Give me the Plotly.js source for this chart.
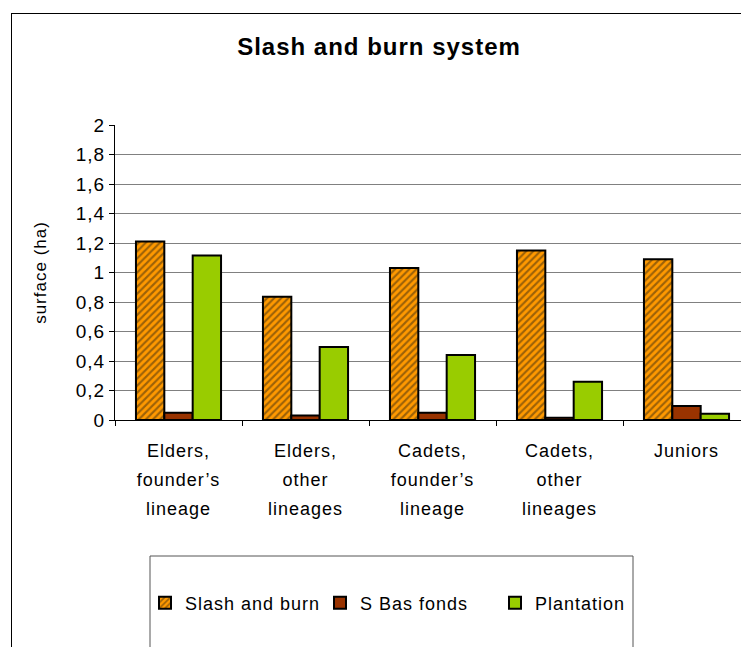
<!DOCTYPE html>
<html><head><meta charset="utf-8">
<script src="https://cdn.plot.ly/plotly-3.0.1.min.js"></script>
<style>
html,body{margin:0;padding:0;overflow:hidden;background:#fff;width:741px;height:647px}
#chart{position:absolute;left:0;top:0;width:760px;height:647px}
#frame{position:absolute;left:11px;top:13px;width:800px;height:700px;border-left:1px solid #000;border-top:1px solid #000;pointer-events:none}
svg text{letter-spacing:1px}
</style></head><body>
<div id="chart"></div>
<div id="frame"></div>
<script>
const categories = ['Elders, founder’s lineage','Elders, other lineages','Cadets, founder’s lineage','Cadets, other lineages','Juniors'];
const tickLabels = ['Elders,<br>founder’s<br>lineage','Elders,<br>other<br>lineages','Cadets,<br>founder’s<br>lineage','Cadets,<br>other<br>lineages','Juniors'];
const seriesNames = ['Slash and burn','S Bas fonds','Plantation'];
const slashAndBurn = [1.21, 0.835, 1.03, 1.15, 1.09];
const sBasFonds = [0.05, 0.03, 0.05, 0.015, 0.095];
const plantation = [1.115, 0.495, 0.44, 0.26, 0.043];

const font = 'Liberation Sans, Arial, sans-serif';
const W = 760, H = 647, L = 115, T = 125, PW = 635, PH = 295;
const px = X => (X - L) / PW;
const py = Y => (T + PH - Y) / PH;

// glyphs at 18px inside a 22px line box, to get the reference's wide line spacing
const styledTicks = tickLabels.map(t => t.split('<br>').map(s => '<span style="font-size:18px">' + s + '</span>').join('<br>'));

const line = {color:'#000', width:2};
const traces = [
  {type:'bar', name:seriesNames[0], x:categories, y:slashAndBurn,
   marker:{color:'#FF9900', line:line, pattern:{shape:'/', fillmode:'overlay', fgcolor:'#3a2a10', size:5, solidity:0.42}}},
  {type:'bar', name:seriesNames[1], x:categories, y:sBasFonds,
   marker:{color:'#993300', line:line}},
  {type:'bar', name:seriesNames[2], x:categories, y:plantation,
   marker:{color:'#99CC00', line:line}}
];

const layout = {
  width:W, height:H,
  margin:{l:L, t:T, r:W-L-PW, b:H-T-PH, pad:0},
  paper_bgcolor:'rgba(0,0,0,0)', plot_bgcolor:'rgba(0,0,0,0)',
  separators:', ',
  font:{family:font, color:'#000', size:16},
  title:{text:'<b>Slash and burn system</b>', font:{size:24, family:font, color:'#000'},
         xref:'container', x:379/W, xanchor:'center', yref:'container', y:1-47/H, yanchor:'middle'},
  barmode:'group', bargap:0.33, bargroupgap:0,
  showlegend:true,
  legend:{orientation:'h', x:px(145), xanchor:'left', y:py(603), yanchor:'middle',
          font:{size:18, family:font, color:'#000'}, itemwidth:30, entrywidth:130, bgcolor:'rgba(0,0,0,0)', borderwidth:0,
          itemclick:false},
  xaxis:{type:'category', tickvals:categories, ticktext:styledTicks, tickson:'boundaries',
         ticks:'outside', ticklen:5, tickcolor:'#000', showline:true, linecolor:'#000', linewidth:1,
         tickfont:{size:22, family:font, color:'#000'}, ticklabelstandoff:10, showgrid:false, fixedrange:true},
  yaxis:{range:[0,2], dtick:0.2, tick0:0, ticks:'outside', ticklen:5, tickcolor:'#000',
         showline:true, linecolor:'#000', linewidth:1, showgrid:true, gridcolor:'#808080', gridwidth:1,
         zeroline:false, tickfont:{size:19, family:font, color:'#000'},
         title:{text:'surface (ha)', font:{size:17, family:font, color:'#000'}, standoff:24}, fixedrange:true},
  shapes:[
    {type:'rect', xref:'paper', yref:'paper', x0:px(150), x1:px(633), y0:py(556), y1:py(700),
     line:{color:'#555', width:1}, fillcolor:'rgba(0,0,0,0)', layer:'below'}
  ]
};

Plotly.newPlot('chart', traces, layout, {displayModeBar:false, staticPlot:true});
</script>
</body></html>
